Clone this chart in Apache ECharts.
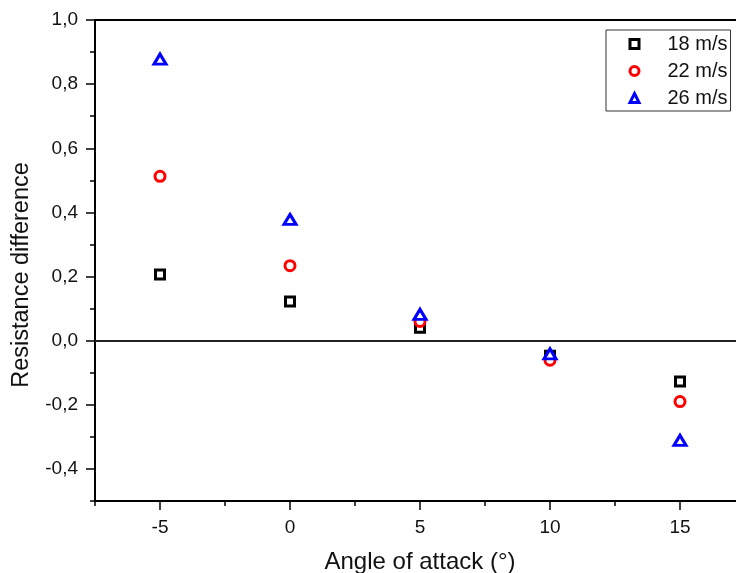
<!DOCTYPE html>
<html>
<head>
<meta charset="utf-8">
<script src="https://cdn.jsdelivr.net/npm/echarts@6/dist/echarts.min.js"></script>
<style>html,body{margin:0;padding:0;background:#fff;}#c{width:736px;height:573px;}</style>
</head>
<body>
<div id="c"></div>
<script>
var angles = [-5, 0, 5, 10, 15];
var v18 = [0.206, 0.122, 0.04, -0.047, -0.127];
var v22 = [0.5125, 0.234, 0.06, -0.061, -0.19];
var v26 = [0.878, 0.378, 0.082, -0.041, -0.311];
var seriesNames = ['18 m/s', '22 m/s', '26 m/s'];
var xMajorTicks = [-5, 0, 5, 10, 15];
var yMajorTicks = [-0.4, -0.2, 0.0, 0.2, 0.4, 0.6, 0.8, 1.0];

var FONT = 'Liberation Sans, Arial, sans-serif';
function pairs(xs, ys) { return xs.map(function (x, i) { return [x, ys[i]]; }); }
function fmtY(v) { return v.toFixed(1).replace('.', ','); }

var chart = echarts.init(document.getElementById('c'), null, {renderer: 'canvas'});
var option = {
  animation: false,
  backgroundColor: '#fff',
  grid: [
    {left: 95, width: 650, top: 20, bottom: 72, outerBoundsMode: 'none', containLabel: false, show: true, borderColor: '#000', borderWidth: 2, backgroundColor: 'transparent'},
    {left: 160, width: 520, top: 20, bottom: 72, outerBoundsMode: 'none', containLabel: false, show: false},
    {left: 95, width: 650, top: 20, height: 449, outerBoundsMode: 'none', containLabel: false, show: false}
  ],
  xAxis: [
    {gridIndex: 0, type: 'value', min: -7.5, max: 17.5, interval: 2.5,
     axisLine: {show: true, onZero: false, lineStyle: {color: '#000', width: 2}},
     axisTick: {show: true, inside: false, length: 5, lineStyle: {color: '#000', width: 1.5}},
     axisLabel: {show: false}, splitLine: {show: false}},
    {gridIndex: 1, type: 'value', min: xMajorTicks[0], max: xMajorTicks[xMajorTicks.length - 1], interval: 5,
     axisLine: {show: false, onZero: false},
     axisTick: {show: true, inside: false, length: 9, lineStyle: {color: '#000', width: 1.5}},
     axisLabel: {show: true, margin: 17, color: '#111', fontSize: 19, fontFamily: FONT},
     splitLine: {show: false}},
    {gridIndex: 2, type: 'value', show: false, min: 0, max: 1}
  ],
  yAxis: [
    {gridIndex: 0, type: 'value', min: -0.5, max: 1.0, interval: 0.1,
     axisLine: {show: true, onZero: false, lineStyle: {color: '#000', width: 2}},
     axisTick: {show: true, inside: false, length: 5, lineStyle: {color: '#000', width: 1.5}},
     axisLabel: {show: false}, splitLine: {show: false}},
    {gridIndex: 1, type: 'value', show: false, min: 0, max: 1},
    {gridIndex: 2, type: 'value', min: yMajorTicks[0], max: yMajorTicks[yMajorTicks.length - 1], interval: 0.2,
     axisLine: {show: false, onZero: false},
     axisTick: {show: true, inside: false, length: 9, lineStyle: {color: '#000', width: 1.5}},
     axisLabel: {show: true, margin: 17, color: '#111', fontSize: 19, fontFamily: FONT, formatter: fmtY},
     splitLine: {show: false}}
  ],
  legend: {
    orient: 'vertical', left: 606, top: 30,
    padding: [4, 3, 3, 22.5], itemGap: 7,
    itemWidth: 9, itemHeight: 9,
    itemStyle: {borderWidth: 3},
    borderColor: '#333', borderWidth: 1, backgroundColor: '#fff',
    textStyle: {fontSize: 20, color: '#111', fontFamily: FONT, padding: [0, 0, 0, 23.5]},
    data: seriesNames
  },
  series: [
    {name: seriesNames[0], type: 'scatter', xAxisIndex: 0, yAxisIndex: 0,
     symbol: 'rect', symbolSize: 9,
     itemStyle: {color: '#fff', borderColor: '#000', borderWidth: 3, opacity: 1},
     data: pairs(angles, v18),
     markLine: {silent: true, symbol: 'none', label: {show: false},
       lineStyle: {color: '#222', width: 2, type: 'solid'},
       data: [{yAxis: 0}]}},
    {name: seriesNames[1], type: 'scatter', xAxisIndex: 0, yAxisIndex: 0,
     symbol: 'circle', symbolSize: 10,
     itemStyle: {color: '#fff', borderColor: '#ff0000', borderWidth: 3, opacity: 1},
     data: pairs(angles, v22)},
    {name: seriesNames[2], type: 'scatter', xAxisIndex: 0, yAxisIndex: 0,
     symbol: 'triangle', symbolSize: [12, 10],
     itemStyle: {color: '#fff', borderColor: '#0000ff', borderWidth: 3, opacity: 1},
     data: pairs(angles, v26)}
  ],
  graphic: [
    {type: 'text', x: 22, y: 275, rotation: Math.PI / 2,
     style: {text: 'Resistance difference', fontSize: 23.5, fontFamily: FONT, fill: '#111', align: 'center', verticalAlign: 'middle'}},
    {type: 'text', x: 420, y: 562,
     style: {text: 'Angle of attack (°)', fontSize: 24, fontFamily: FONT, fill: '#111', align: 'center', verticalAlign: 'middle'}}
  ]
};
chart.setOption(option);
</script>
</body>
</html>
